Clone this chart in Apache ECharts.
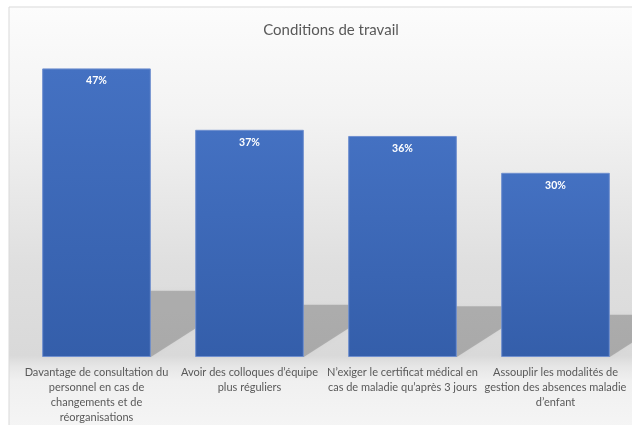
<!DOCTYPE html>
<html>
<head>
<meta charset="utf-8">
<script src="https://cdn.jsdelivr.net/npm/echarts@6/dist/echarts.min.js"></script>
<style>
html,body{margin:0;padding:0;background:#fff;}
#chart{width:632px;height:425px;}
</style>
</head>
<body>
<div id="chart"></div>
<script>
const titleText = "Conditions de travail";
const categories = [
  "Davantage de consultation du\npersonnel en cas de\nchangements et de\nréorganisations",
  "Avoir des colloques d’équipe\nplus réguliers",
  "N’exiger le certificat médical en\ncas de maladie qu’après 3 jours",
  "Assouplir les modalités de\ngestion des absences maladie\nd’enfant"
];
const values = [47, 37, 36, 30];

const chart = echarts.init(document.getElementById('chart'));
const FONT = 'Lato';
const shadowRatio = 0.23;
const barFrac = 0.71;

chart.setOption({
  animation: false,
  backgroundColor: '#ffffff',
  graphic: [{
    type: 'rect',
    z: -10,
    silent: true,
    shape: {x: 9, y: 7, width: 640, height: 430},
    style: {
      fill: new echarts.graphic.LinearGradient(0, 0, 0, 1, [
        {offset: 0, color: '#fcfcfc'},
        {offset: 0.25, color: '#f3f3f3'},
        {offset: 0.6, color: '#dfdfdf'},
        {offset: 0.81, color: '#d9d9d9'},
        {offset: 0.835, color: '#e6e6e6'},
        {offset: 0.87, color: '#f0f0f0'},
        {offset: 1, color: '#f6f6f6'}
      ]),
      stroke: '#d9d9d9',
      lineWidth: 1
    }
  }],
  title: {
    text: titleText,
    left: 326,
    textAlign: 'center',
    top: 18,
    textStyle: {fontFamily: FONT, fontSize: 15, fontWeight: 'normal', color: '#595959'}
  },
  grid: {left: 20, right: 0, top: 50, bottom: 68, containLabel: false},
  xAxis: {
    type: 'category',
    data: categories,
    axisLine: {show: false},
    axisTick: {show: false},
    axisLabel: {
      interval: 0,
      margin: 8,
      fontFamily: FONT,
      fontSize: 11,
      lineHeight: 15,
      color: '#595959',
      align: 'center'
    }
  },
  yAxis: {type: 'value', min: 0, max: 50, show: false, splitLine: {show: false}},
  series: [
    {
      type: 'custom',
      z: 1,
      silent: true,
      data: values.map((v, i) => [i, v]),
      renderItem: function (params, api) {
        const i = api.value(0), v = api.value(1);
        const base = api.coord([i, 0]);
        const top = api.coord([i, v * shadowRatio]);
        const bw = api.size([1, 0])[0] * barFrac;
        const xl = base[0] - bw / 2, xr = base[0] + bw / 2;
        const y0 = base[1], ys = top[1];
        const dx = (y0 - ys) / 0.64;
        return {
          type: 'polygon',
          shape: {points: [[xl, y0], [xl + dx, ys], [xr + dx, ys], [xr, y0]]},
          style: {fill: 'rgba(0,0,0,0.2)', shadowBlur: 3, shadowColor: 'rgba(0,0,0,0.12)'}
        };
      }
    },
    {
      type: 'bar',
      z: 3,
      data: values,
      barWidth: (barFrac * 100) + '%',
      itemStyle: {
        color: new echarts.graphic.LinearGradient(0, 0, 0, 1, [
          {offset: 0, color: '#4471c2'},
          {offset: 1, color: '#345eaa'}
        ]),
        borderColor: '#6f8fcf',
        borderWidth: 1
      },
      label: {
        show: true,
        position: 'insideTop',
        distance: 7,
        formatter: '{c}%',
        color: '#ffffff',
        fontFamily: FONT,
        fontWeight: 'bold',
        fontSize: 10.5
      }
    }
  ]
});
</script>
</body>
</html>
